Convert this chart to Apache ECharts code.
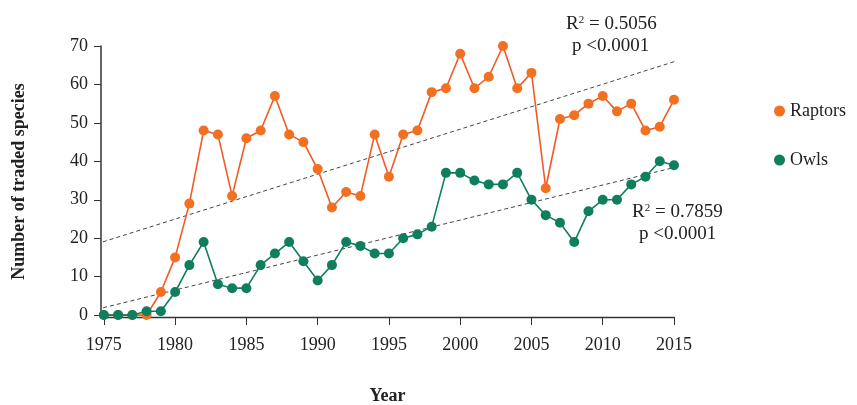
<!DOCTYPE html>
<html><head><meta charset="utf-8">
<script src="https://cdn.jsdelivr.net/npm/echarts@6/dist/echarts.min.js"></script>
<style>html,body{margin:0;padding:0;background:#fff}#c{width:857px;height:405px}</style>
</head><body><div id="c"></div>
<script>
const years = [1975,1976,1977,1978,1979,1980,1981,1982,1983,1984,1985,1986,1987,1988,1989,1990,1991,1992,1993,1994,1995,1996,1997,1998,1999,2000,2001,2002,2003,2004,2005,2006,2007,2008,2009,2010,2011,2012,2013,2014,2015];
const raptors = [0,0,0,0,6,15,29,48,47,31,46,48,57,47,45,38,28,32,31,47,36,47,48,58,59,68,59,62,70,59,63,33,51,52,55,57,53,55,48,49,56];
const owls = [0,0,0,1,1,6,13,19,8,7,7,13,16,19,14,9,13,19,18,16,16,20,21,23,37,37,35,34,34,37,30,26,24,19,27,30,30,34,36,40,39];
const trendX = [1974.0, 2016.45];
const raptorTrend = [17.95, 67.6];
const owlTrend = [1.04, 39.7];
const xTicks = [1975,1980,1985,1990,1995,2000,2005,2010,2015];

const serif = '"Liberation Serif","Times New Roman",serif';
const orange = '#F37021', orangeLine = '#F15A24', green = '#0E7E5E';
const chart = echarts.init(document.getElementById('c'));
const pair = (xs, ys) => xs.map((x,i)=>[x, ys[i]]);
chart.setOption({
  animation:false,
  grid:{left:101, right:183, top:46, bottom:88, containLabel:false, outerBoundsMode:'none'},
  legend:{
    orient:'vertical', left:769, top:97, itemGap:31, icon:'circle',
    itemWidth:11, itemHeight:11,
    textStyle:{fontFamily:serif, fontSize:18, color:'#222'},
    data:['Raptors','Owls']
  },
  xAxis:{
    type:'value', min:1974.8, max:2015,
    name:'Year', nameLocation:'middle', nameGap:70,
    nameTextStyle:{fontFamily:serif, fontSize:18, fontWeight:'bold', color:'#222'},
    splitLine:{show:false},
    axisLine:{onZero:false, lineStyle:{color:'#333', width:1.3}},
    axisTick:{show:true, length:8, customValues:xTicks, lineStyle:{color:'#333'}},
    axisLabel:{customValues:xTicks, formatter:v=>String(v), margin:19, fontFamily:serif, fontSize:18, color:'#222'}
  },
  yAxis:{
    type:'value', min:-0.5, max:70, position:'left',
    name:'Number of traded species', nameLocation:'middle', nameGap:73,
    nameTextStyle:{fontFamily:serif, fontSize:18, fontWeight:'bold', color:'#222'},
    splitLine:{show:false},
    axisLine:{show:true, onZero:false, lineStyle:{color:'#333333', width:1.5}},
    axisTick:{show:true, inside:false, length:7, lineStyle:{color:'#333333', width:1}},
    axisLabel:{formatter:v=>String(v), margin:13, fontFamily:serif, fontSize:18, color:'#222'}
  },
  graphic:[
    {type:'text', left:566, top:15, style:{rich:{s:{fontSize:11, fontFamily:serif, fill:'#222', verticalAlign:'top', padding:[0,0,8,0]}}, text:'R{s|2} = 0.5056', font:'19px '+serif, fill:'#222'}},
    {type:'text', left:572, top:37, style:{text:'p <0.0001', font:'19px '+serif, fill:'#222'}},
    {type:'text', left:632, top:203, style:{rich:{s:{fontSize:11, fontFamily:serif, fill:'#222', verticalAlign:'top', padding:[0,0,8,0]}}, text:'R{s|2} = 0.7859', font:'19px '+serif, fill:'#222'}},
    {type:'text', left:639, top:225, style:{text:'p <0.0001', font:'19px '+serif, fill:'#222'}}
  ],
  series:[
    {name:'RaptorTrend', type:'line', data:pair(trendX, raptorTrend), clip:false, symbol:'none', silent:true,
     lineStyle:{color:'#444', width:1, type:[4,3]}, z:1},
    {name:'OwlTrend', type:'line', data:pair(trendX, owlTrend), clip:false, symbol:'none', silent:true,
     lineStyle:{color:'#444', width:1, type:[4,3]}, z:1},
    {name:'Raptors', type:'line', data:pair(years, raptors), symbol:'circle', symbolSize:10, clip:false,
     lineStyle:{color:orangeLine, width:1.6}, itemStyle:{color:orange}, z:3},
    {name:'Owls', type:'line', data:pair(years, owls), symbol:'circle', symbolSize:10, clip:false,
     lineStyle:{color:green, width:1.6}, itemStyle:{color:green}, z:4}
  ]
});
</script></body></html>
